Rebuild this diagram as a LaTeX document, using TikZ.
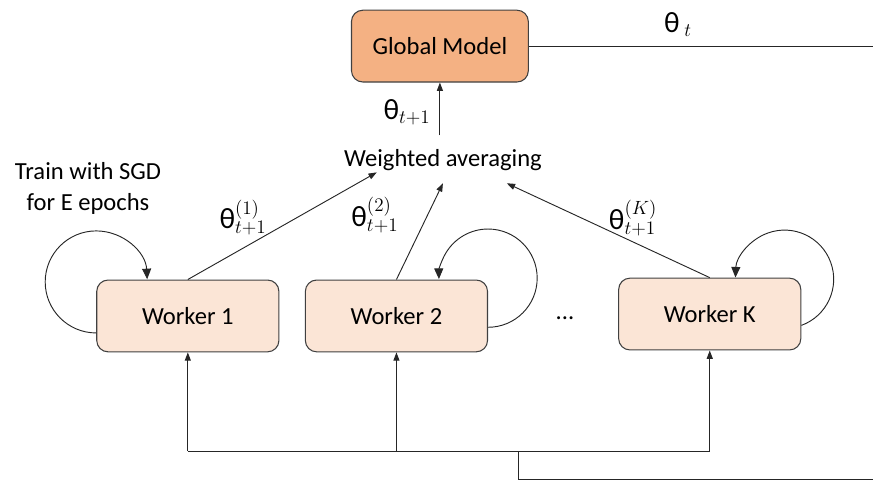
\documentclass[tikz,border=0pt]{standalone}
\usepackage{fontspec}
\setmainfont{Carlito}
\usetikzlibrary{arrows.meta}

\definecolor{globalfill}{HTML}{F4B183}
\definecolor{workerfill}{HTML}{FBE5D6}
\definecolor{edgegray}{HTML}{404040}

\begin{document}
\begin{tikzpicture}[
  box/.style={draw=edgegray, line width=0.8pt, rounded corners=0.3cm, minimum height=1.9cm, font=\fontsize{18.5}{22}\selectfont},
  worker/.style={box, fill=workerfill, minimum width=4.82cm},
  lbl/.style={font=\fontsize{18.5}{23}\selectfont, inner sep=1pt},
  theta/.style={font=\fontsize{22}{26}\selectfont, inner sep=1pt},
  wire/.style={line width=0.7pt, draw=black!85},
  arr/.style={wire, -{Triangle[length=2.2mm,width=1.6mm]}},
  selfloop/.style={wire, -{Triangle[length=2.8mm,width=2.4mm]}}
]
\useasboundingbox (0,0) rectangle (23.10,12.73);
\node [box, fill=globalfill, minimum width=4.68cm] (gm) at (11.64,11.51) {Global Model};
\node [worker] (w1) at (4.97,4.37) {Worker 1};
\node [worker] (w2) at (10.49,4.37) {Worker 2};
\node [worker] (wk) at (18.78,4.42) {Worker K};
\node [lbl] (wavg) at (11.72,8.49) {Weighted averaging};
\node [lbl] (dots) at (14.95,4.31) {...};
\node [lbl, align=center] (sgd) at (2.33,7.75) {Train with SGD\\for E epochs};
\node [theta] (thg) at (10.77,9.76) {θ$_{t+1}$};
\node [theta] (tht) at (17.94,12.08) {θ\,$_{t}$};
\node [theta] (th1) at (6.43,6.98) {θ$_{t+1}^{(1)}$};
\node [theta] (th2) at (9.92,7.04) {θ$_{t+1}^{(2)}$};
\node [theta] (thk) at (16.75,6.96) {θ$_{t+1}^{(K)}$};
\coordinate (avgtop) at (11.64,9.15);
\coordinate (in1) at (9.97,8.17);
\coordinate (in2) at (11.72,7.88);
\coordinate (ink) at (13.41,7.88);
\coordinate (gmout) at (23.10,11.51);
\coordinate (bus) at (13.73,0.79);
\coordinate (busout) at (23.10,0.05);
\draw [wire] (gm.east) -- (gmout);
\draw [arr] (avgtop) -- (gm.south);
\draw [arr] (w1.north) -- (in1);
\draw [arr] (w2.north) -- (in2);
\draw [arr] (wk.north) -- (ink);
\draw [selfloop] ([yshift=-0.45cm]w1.west) arc [start angle=270, end angle=3, radius=1.35cm];
\draw [selfloop] ([yshift=-0.3cm]w2.east) arc [start angle=-90, end angle=181, radius=1.3cm];
\draw [selfloop] ([yshift=-0.3cm]wk.east) arc [start angle=-70, end angle=178, radius=1.3cm];
\draw [wire] (w1.south |- bus) -- (wk.south |- bus);
\draw [arr] (w1.south |- bus) -- (w1.south);
\draw [arr] (w2.south |- bus) -- (w2.south);
\draw [arr] (wk.south |- bus) -- (wk.south);
\draw [wire] (bus) |- (busout);
\end{tikzpicture}
\end{document}
